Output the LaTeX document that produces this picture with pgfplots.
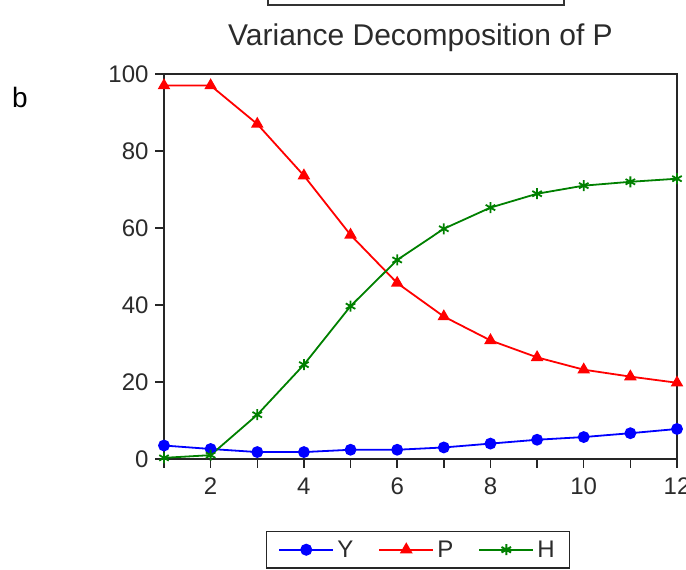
\documentclass[border=0pt]{standalone}
\usepackage{fontspec}
\setmainfont{Liberation Sans}
\usepackage{pgfplots}
\pgfplotsset{compat=1.18}
\definecolor{txt}{HTML}{2B2B2B}
\definecolor{serY}{RGB}{0,0,255}
\definecolor{serP}{RGB}{255,0,0}
\definecolor{serH}{RGB}{0,128,0}

\begin{document}
\begin{tikzpicture}
\useasboundingbox (0,0) rectangle (686pt,570pt);
% bottom of the previous panel's legend box
\draw[line width=1.5pt, black!80] (268pt,575pt) -- (268pt,565pt) -- (564pt,565pt) -- (564pt,575pt);
\node[anchor=base west, inner sep=0pt, font=\fontsize{28}{32}\selectfont] at (12pt,462pt) {b};
\begin{axis}[
  scale only axis, width=513pt, height=385pt,
  at={(164pt,111pt)}, anchor=south west,
  xmin=1, xmax=12, ymin=0, ymax=100,
  xtick={2,4,...,12}, minor xtick={1,3,...,11},
  ytick={0,20,...,100},
  tick pos=left, tick align=outside,
  major tick length=9pt, minor tick length=9pt,
  every tick/.style={black!85, line width=1.5pt},
  axis line style={line width=1.8pt, black!85},
  ticklabel style={font=\fontsize{24}{27}\selectfont, text=txt},
  xticklabel style={yshift=-6pt},
  yticklabel style={xshift=-3pt},
  /pgf/number format/assume math mode=true,
  title={Variance Decomposition of P},
  title style={at={(0.5,1)}, anchor=base, yshift=22pt, font=\fontsize{30}{34}\selectfont, text=txt},
  legend columns=3,
  legend cell align=left,
  legend style={at={(0.495,-0.187)}, anchor=north, draw=black!85, line width=1.5pt,
    font=\fontsize{24}{27}\selectfont, text=txt, inner xsep=12pt, inner ysep=7pt,
    nodes={inner xsep=3pt},
    /tikz/every even column/.append style={column sep=22pt}},
  legend image code/.code={\draw[mark repeat=2,mark phase=2,#1,line width=2pt] plot coordinates {(0pt,0pt) (27pt,0pt) (54pt,0pt)};},
]
\addplot[serY, line width=1.8pt, mark=*, mark size=5pt] coordinates {
(1,3.5) (2,2.6) (3,1.8) (4,1.8) (5,2.4) (6,2.4) (7,3.0) (8,4.0) (9,5.0) (10,5.7) (11,6.7) (12,7.8)};
\addlegendentry{Y}
\addplot[serP, line width=1.8pt, mark=triangle*, mark size=5.5pt] coordinates {
(1,97) (2,97) (3,87) (4,73.6) (5,58.2) (6,45.7) (7,37) (8,30.8) (9,26.4) (10,23.2) (11,21.4) (12,19.8)};
\addlegendentry{P}
\addplot[serH, line width=1.8pt, mark=asterisk, mark size=5.5pt] coordinates {
(1,0.3) (2,1) (3,11.5) (4,24.5) (5,39.7) (6,51.7) (7,59.8) (8,65.3) (9,68.9) (10,71) (11,72) (12,72.8)};
\addlegendentry{H}
\end{axis}
\end{tikzpicture}
\end{document}
